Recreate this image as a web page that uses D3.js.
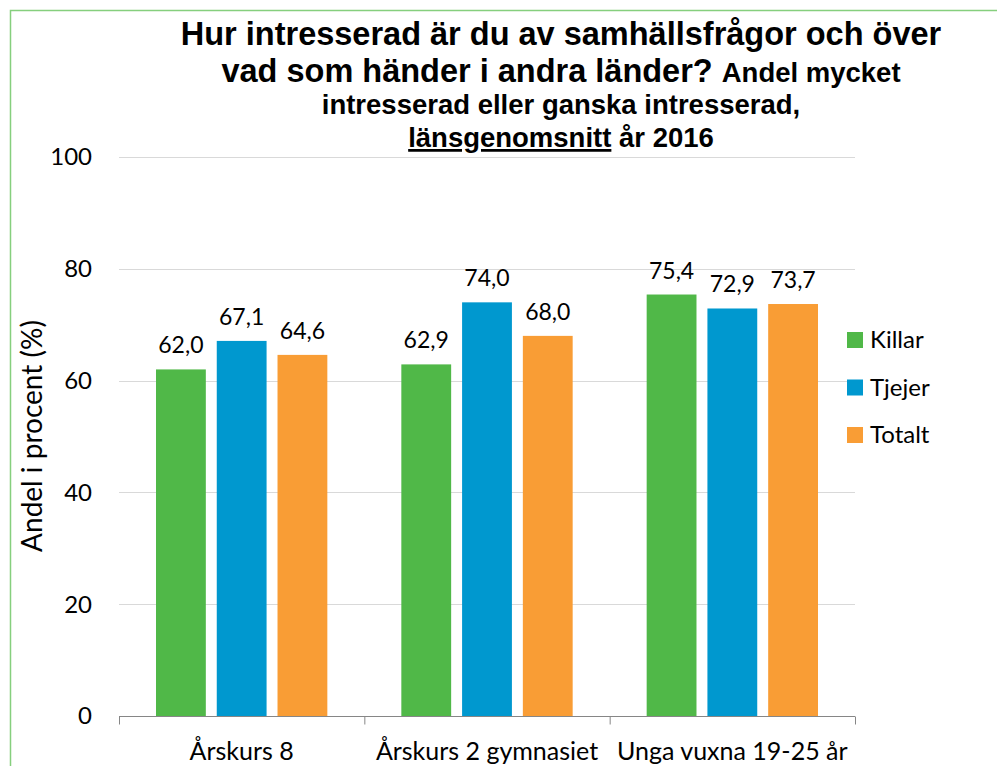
<!DOCTYPE html>
<html>
<head>
<meta charset="utf-8">
<script src="https://cdn.jsdelivr.net/npm/d3@7"></script>
<style>
  body { margin: 0; background: #fff; }
  svg text { font-family: Lato, "Open Sans", sans-serif; }
  .title { font-family: "Liberation Sans", Arial, sans-serif; font-weight: bold; fill: #000; }
</style>
</head>
<body>
<svg id="chart" width="997" height="766"></svg>
<script>
// data
var categories = ["Årskurs 8", "Årskurs 2 gymnasiet", "Unga vuxna 19-25 år"];
var seriesNames = ["Killar", "Tjejer", "Totalt"];
var killar = [62.0, 62.9, 75.4];
var tjejer = [67.1, 74.0, 72.9];
var totalt = [64.6, 68.0, 73.7];
var yTicks = [0, 20, 40, 60, 80, 100];
var colours = ["#50b848", "#0098cf", "#f99d35"];

var seriesValues = [killar, tjejer, totalt];

var svg = d3.select("#chart");

// outer frame
svg.append("rect")
    .attr("x", 10.5).attr("y", 10.5)
    .attr("width", 1000).attr("height", 800)
    .attr("fill", "none")
    .attr("stroke", "#86cf7e")
    .attr("stroke-width", 1.5);

var plotLeft = 119, plotRight = 855, plotTop = 157, plotBottom = 716;

var x0 = d3.scaleBand().domain(categories).range([plotLeft, plotRight]);
var x1 = d3.scaleBand().domain(seriesNames).range([37, x0.bandwidth() - 37]).paddingInner(0.18);
var y = d3.scaleLinear().domain([0, 100]).range([plotBottom, plotTop]);

// gridlines
svg.append("g")
    .selectAll("line")
    .data(yTicks.filter(function(d){ return d > 0; }))
    .enter()
    .append("line")
        .attr("x1", plotLeft).attr("x2", plotRight)
        .attr("y1", function(d){ return Math.round(y(d)) + 0.5; })
        .attr("y2", function(d){ return Math.round(y(d)) + 0.5; })
        .attr("stroke", "#d9d9d9")
        .attr("stroke-width", 1);

// y tick labels
svg.append("g")
    .selectAll("text")
    .data(yTicks)
    .enter()
    .append("text")
        .attr("x", 92)
        .attr("y", function(d){ return y(d); })
        .attr("text-anchor", "end")
        .attr("dy", "0.35em")
        .style("font-size", "24px")
        .style("fill", "#000")
        .text(function(d){ return d; });

// bars
var groups = svg.append("g")
    .selectAll("g")
    .data(categories)
    .enter()
    .append("g")
        .attr("transform", function(d){ return "translate(" + x0(d) + ",0)"; });

function rows(d, i) {
    return seriesNames.map(function(s, j){ return {s: s, v: seriesValues[j][i], j: j}; });
}

groups.selectAll("rect")
    .data(rows)
    .enter()
    .append("rect")
        .attr("x", function(d){ return x1(d.s); })
        .attr("y", function(d){ return y(d.v); })
        .attr("width", x1.bandwidth())
        .attr("height", function(d){ return y(0) - y(d.v); })
        .attr("fill", function(d){ return colours[d.j]; });

groups.selectAll("text")
    .data(rows)
    .enter()
    .append("text")
        .attr("x", function(d){ return x1(d.s) + x1.bandwidth() / 2; })
        .attr("y", function(d){ return y(d.v) - 16; })
        .attr("text-anchor", "middle")
        .style("font-size", "23px")
        .style("fill", "#000")
        .text(function(d){ return d3.format(".1f")(d.v).replace(".", ","); });

// x axis
var axisG = svg.append("g").attr("transform", "translate(0," + (plotBottom + 0.5) + ")");
axisG.append("line")
    .attr("x1", plotLeft).attr("x2", plotRight)
    .attr("stroke", "#868686");
axisG.selectAll(".bound")
    .data(d3.range(categories.length + 1))
    .enter()
    .append("line")
        .attr("x1", function(i){ return plotLeft + i * x0.bandwidth() + 0.5; })
        .attr("x2", function(i){ return plotLeft + i * x0.bandwidth() + 0.5; })
        .attr("y1", 0).attr("y2", 8)
        .attr("stroke", "#868686");

svg.append("g")
    .selectAll("text")
    .data(categories)
    .enter()
    .append("text")
        .attr("x", function(d){ return x0(d) + x0.bandwidth() / 2; })
        .attr("y", 760)
        .attr("text-anchor", "middle")
        .style("font-size", "25px")
        .style("fill", "#000")
        .text(function(d){ return d; });

// y axis title
svg.append("text")
    .attr("transform", "translate(42,436) rotate(-90)")
    .attr("text-anchor", "middle")
    .style("font-size", "28px")
    .style("fill", "#000")
    .text("Andel i procent (%)");

// legend
var legend = svg.append("g");
legend.selectAll("rect")
    .data(seriesNames)
    .enter()
    .append("rect")
        .attr("x", 847)
        .attr("y", function(d, i){ return 332 + i * 47.5; })
        .attr("width", 16).attr("height", 16)
        .attr("fill", function(d, i){ return colours[i]; });
legend.selectAll("text")
    .data(seriesNames)
    .enter()
    .append("text")
        .attr("x", 870)
        .attr("y", function(d, i){ return 340 + i * 47.5; })
        .attr("dy", "0.35em")
        .style("font-size", "24px")
        .style("fill", "#000")
        .text(function(d){ return d; });

// title
var cx = 561;
svg.append("text").attr("class", "title")
    .attr("x", cx).attr("y", 45)
    .attr("text-anchor", "middle")
    .style("font-size", "32.5px")
    .text("Hur intresserad är du av samhällsfrågor och över");
var t2 = svg.append("text").attr("class", "title")
    .attr("x", cx).attr("y", 82)
    .attr("text-anchor", "middle");
t2.append("tspan").style("font-size", "32.5px").text("vad som händer i andra länder? ");
t2.append("tspan").style("font-size", "27.5px").text("Andel mycket");
svg.append("text").attr("class", "title")
    .attr("x", cx).attr("y", 114)
    .attr("text-anchor", "middle")
    .style("font-size", "27.5px")
    .text("intresserad eller ganska intresserad,");
var t4 = svg.append("text").attr("class", "title")
    .attr("x", cx).attr("y", 147)
    .attr("text-anchor", "middle")
    .style("font-size", "27.5px");
t4.append("tspan").style("text-decoration", "underline").text("länsgenomsnitt");
t4.append("tspan").text(" år 2016");
</script>
</body>
</html>
